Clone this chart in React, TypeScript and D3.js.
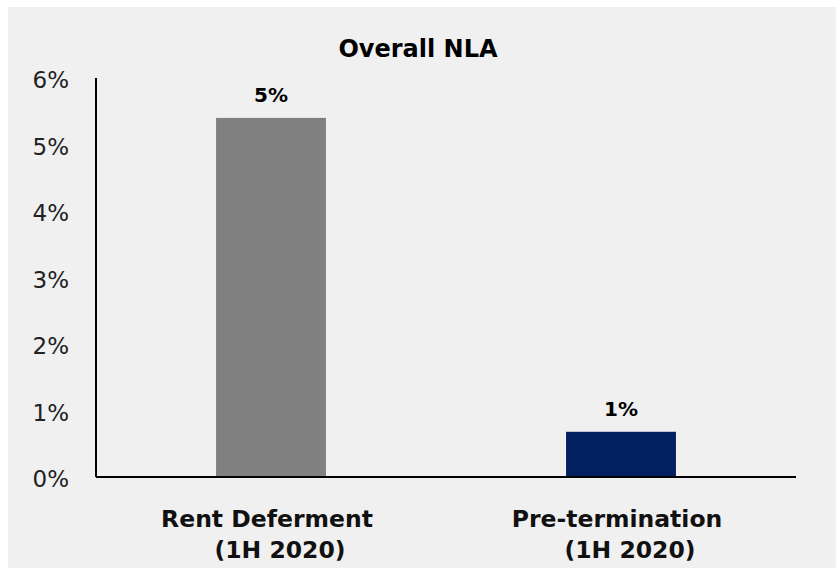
import React from "react";
import * as d3 from "d3";

const categories = ["Rent Deferment|(1H 2020)", "Pre-termination|(1H 2020)"];
const values = [0.054, 0.0068];
const valueLabels = ["5%", "1%"];
const barColors = ["#808080", "#002060"];
const yTicks = [0, 0.01, 0.02, 0.03, 0.04, 0.05, 0.06];
const title = "Overall NLA";

const W = 836;
const H = 568;
const left = 96;
const right = 796;
const top = 78;
const bottom = 477;
const font = "'DejaVu Sans', sans-serif";

export default function App() {
  const x = d3.scaleBand<string>().domain(categories).range([left, right]).padding(0);
  const y = d3.scaleLinear().domain([0, 0.06]).range([bottom, top]);
  const barW = x.bandwidth() * 0.314;
  const fmt = d3.format(".0%");

  return (
    <svg
      width={W}
      height={H}
      style={{ position: "absolute", left: 0, top: 0 }}
      fontFamily={font}
    >
      <rect x={8} y={7} width={W - 8} height={H - 7} fill="#f0f0f0" />
      <text x={418} y={57} textAnchor="middle" fontSize={24} fontWeight="bold" fill="#000">
        {title}
      </text>
      {yTicks.map((t) => (
        <text key={t} x={69} y={y(t) + 10} textAnchor="end" fontSize={23} fill="#222">
          {fmt(t)}
        </text>
      ))}
      {categories.map((c, i) => {
        const cx = (x(c) as number) + x.bandwidth() / 2;
        return (
          <g key={c}>
            <rect
              x={cx - barW / 2}
              y={y(values[i])}
              width={barW}
              height={bottom - y(values[i])}
              fill={barColors[i]}
            />
            <text x={cx} y={y(values[i]) - 16} textAnchor="middle" fontSize={20} fontWeight="bold" fill="#000">
              {valueLabels[i]}
            </text>
            {c.split("|").map((line, j) => (
              <text
                key={j}
                x={cx + (j === 1 ? 9 : -4)}
                y={527 + j * 31}
                textAnchor="middle"
                fontSize={23.5}
                fontWeight="bold"
                fill="#111"
              >
                {line}
              </text>
            ))}
          </g>
        );
      })}
      <line x1={left} x2={left} y1={top} y2={bottom} stroke="#000" strokeWidth={2} />
      <line x1={left} x2={right} y1={bottom} y2={bottom} stroke="#000" strokeWidth={2} />
    </svg>
  );
}
